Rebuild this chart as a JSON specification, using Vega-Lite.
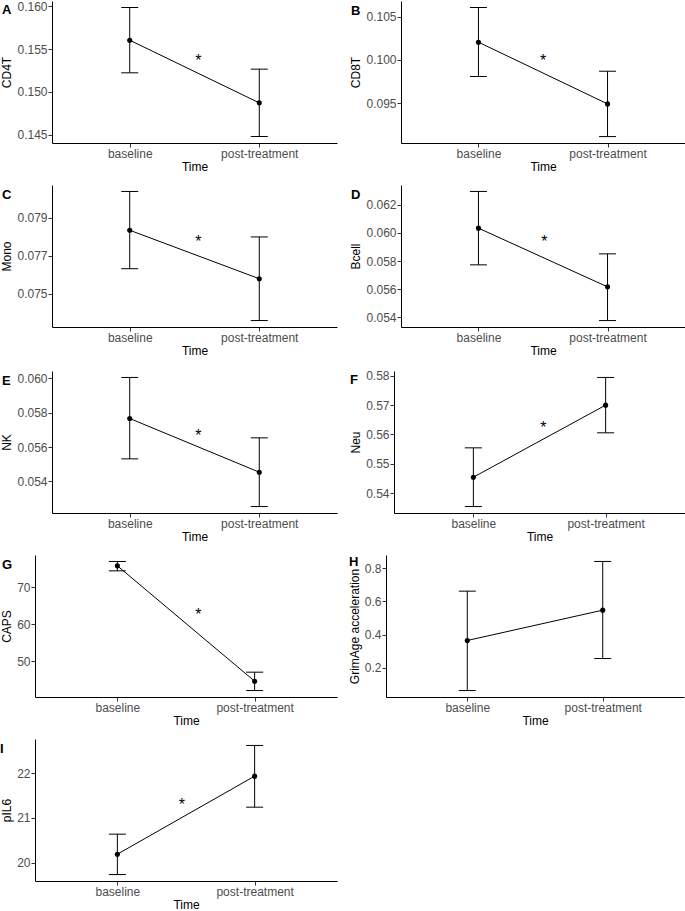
{
"$schema": "https://vega.github.io/schema/vega-lite/v6.json",
"padding": {"left": 0, "top": 0, "right": 0, "bottom": 0},
"datasets": {
"summary": [
{"panel": "CD4T", "time": "baseline", "t": 1, "mean": 0.15605, "lo": 0.15223, "hi": 0.15988},
{"panel": "CD4T", "time": "post-treatment", "t": 2, "mean": 0.14871, "lo": 0.14477, "hi": 0.15266},
{"panel": "CD8T", "time": "baseline", "t": 1, "mean": 0.10204, "lo": 0.09808, "hi": 0.10604},
{"panel": "CD8T", "time": "post-treatment", "t": 2, "mean": 0.09492, "lo": 0.09115, "hi": 0.09869},
{"panel": "Mono", "time": "baseline", "t": 1, "mean": 0.078333, "lo": 0.076316, "hi": 0.080368},
{"panel": "Mono", "time": "post-treatment", "t": 2, "mean": 0.075789, "lo": 0.073596, "hi": 0.077982},
{"panel": "Bcell", "time": "baseline", "t": 1, "mean": 0.060338, "lo": 0.057727, "hi": 0.06295},
{"panel": "Bcell", "time": "post-treatment", "t": 2, "mean": 0.05616, "lo": 0.053763, "hi": 0.05851},
{"panel": "NK", "time": "baseline", "t": 1, "mean": 0.057657, "lo": 0.055315, "hi": 0.060039},
{"panel": "NK", "time": "post-treatment", "t": 2, "mean": 0.05454, "lo": 0.052546, "hi": 0.056534},
{"panel": "Neu", "time": "baseline", "t": 1, "mean": 0.54545, "lo": 0.53545, "hi": 0.55545},
{"panel": "Neu", "time": "post-treatment", "t": 2, "mean": 0.57, "lo": 0.56057, "hi": 0.57943},
{"panel": "CAPS", "time": "baseline", "t": 1, "mean": 75.79, "lo": 74.43, "hi": 76.97},
{"panel": "CAPS", "time": "post-treatment", "t": 2, "mean": 44.57, "lo": 42.04, "hi": 47.01},
{"panel": "GrimAge acceleration", "time": "baseline", "t": 1, "mean": 0.3636, "lo": 0.0606, "hi": 0.6626},
{"panel": "GrimAge acceleration", "time": "post-treatment", "t": 2, "mean": 0.5475, "lo": 0.2545, "hi": 0.8424},
{"panel": "pIL6", "time": "baseline", "t": 1, "mean": 20.187, "lo": 19.73, "hi": 20.637},
{"panel": "pIL6", "time": "post-treatment", "t": 2, "mean": 21.94, "lo": 21.243, "hi": 22.629}
],
"stars": [
{"panel": "CD4T", "t": 1.53, "y": 0.15402},
{"panel": "CD8T", "t": 1.5, "y": 0.10027},
{"panel": "Mono", "t": 1.53, "y": 0.077895},
{"panel": "Bcell", "t": 1.51, "y": 0.059579},
{"panel": "NK", "t": 1.53, "y": 0.056825},
{"panel": "Neu", "t": 1.53, "y": 0.56318},
{"panel": "CAPS", "t": 1.59, "y": 63.21},
{"panel": "pIL6", "t": 1.47, "y": 21.363}
]
},
"spacing": 13,
"columns": 1,
"align": "none",
"concat": [
{"spacing": 12, "hconcat": [
{"width": 285, "height": 142, "title": {"text": "A", "dx": -50}, "data": {"name": "summary"}, "transform": [{"filter": "datum.panel === 'CD4T'"}],
 "encoding": {"x": {"field": "t", "type": "quantitative", "scale": {"domain": [0.4, 2.6], "nice": false, "zero": false}, "axis": {"values": [1, 2], "labelExpr": "datum.value === 1 ? 'baseline' : 'post-treatment'"}, "title": "Time"}},
 "layer": [
  {"mark": {"type": "rule", "color": "black", "strokeWidth": 1}, "encoding": {"y": {"field": "lo", "type": "quantitative", "scale": {"domain": [0.14401, 0.16064], "nice": false, "zero": false}, "axis": {"values": [0.145, 0.15, 0.155, 0.16], "format": ".3f"}, "title": "CD4T"}, "y2": {"field": "hi"}}},
  {"mark": {"type": "tick", "orient": "horizontal", "size": 17, "thickness": 1, "color": "black", "opacity": 1}, "encoding": {"y": {"field": "lo", "type": "quantitative", "axis": {"values": [0.145, 0.15, 0.155, 0.16], "format": ".3f"}, "title": "CD4T"}}},
  {"mark": {"type": "tick", "orient": "horizontal", "size": 17, "thickness": 1, "color": "black", "opacity": 1}, "encoding": {"y": {"field": "hi", "type": "quantitative", "axis": {"values": [0.145, 0.15, 0.155, 0.16], "format": ".3f"}, "title": "CD4T"}}},
  {"mark": {"type": "line", "color": "black", "strokeWidth": 1}, "encoding": {"y": {"field": "mean", "type": "quantitative", "axis": {"values": [0.145, 0.15, 0.155, 0.16], "format": ".3f"}, "title": "CD4T"}}},
  {"mark": {"type": "point", "filled": true, "color": "black", "size": 26, "opacity": 1}, "encoding": {"y": {"field": "mean", "type": "quantitative", "axis": {"values": [0.145, 0.15, 0.155, 0.16], "format": ".3f"}, "title": "CD4T"}}},
  {"data": {"name": "stars"}, "transform": [{"filter": "datum.panel === 'CD4T'"}], "mark": {"type": "text", "text": "*", "fontSize": 16, "dy": 3, "color": "black"}, "encoding": {"y": {"field": "y", "type": "quantitative", "axis": {"values": [0.145, 0.15, 0.155, 0.16], "format": ".3f"}, "title": "CD4T"}}}
 ]},
{"width": 284, "height": 142, "title": {"text": "B", "dx": -50}, "data": {"name": "summary"}, "transform": [{"filter": "datum.panel === 'CD8T'"}],
 "encoding": {"x": {"field": "t", "type": "quantitative", "scale": {"domain": [0.4, 2.6], "nice": false, "zero": false}, "axis": {"values": [1, 2], "labelExpr": "datum.value === 1 ? 'baseline' : 'post-treatment'"}, "title": "Time"}},
 "layer": [
  {"mark": {"type": "rule", "color": "black", "strokeWidth": 1}, "encoding": {"y": {"field": "lo", "type": "quantitative", "scale": {"domain": [0.09041, 0.10679], "nice": false, "zero": false}, "axis": {"values": [0.095, 0.1, 0.105], "format": ".3f"}, "title": "CD8T"}, "y2": {"field": "hi"}}},
  {"mark": {"type": "tick", "orient": "horizontal", "size": 17, "thickness": 1, "color": "black", "opacity": 1}, "encoding": {"y": {"field": "lo", "type": "quantitative", "axis": {"values": [0.095, 0.1, 0.105], "format": ".3f"}, "title": "CD8T"}}},
  {"mark": {"type": "tick", "orient": "horizontal", "size": 17, "thickness": 1, "color": "black", "opacity": 1}, "encoding": {"y": {"field": "hi", "type": "quantitative", "axis": {"values": [0.095, 0.1, 0.105], "format": ".3f"}, "title": "CD8T"}}},
  {"mark": {"type": "line", "color": "black", "strokeWidth": 1}, "encoding": {"y": {"field": "mean", "type": "quantitative", "axis": {"values": [0.095, 0.1, 0.105], "format": ".3f"}, "title": "CD8T"}}},
  {"mark": {"type": "point", "filled": true, "color": "black", "size": 26, "opacity": 1}, "encoding": {"y": {"field": "mean", "type": "quantitative", "axis": {"values": [0.095, 0.1, 0.105], "format": ".3f"}, "title": "CD8T"}}},
  {"data": {"name": "stars"}, "transform": [{"filter": "datum.panel === 'CD8T'"}], "mark": {"type": "text", "text": "*", "fontSize": 16, "dy": 3, "color": "black"}, "encoding": {"y": {"field": "y", "type": "quantitative", "axis": {"values": [0.095, 0.1, 0.105], "format": ".3f"}, "title": "CD8T"}}}
 ]}
]},
{"spacing": 12, "hconcat": [
{"width": 285, "height": 142, "title": {"text": "C", "dx": -50}, "data": {"name": "summary"}, "transform": [{"filter": "datum.panel === 'Mono'"}],
 "encoding": {"x": {"field": "t", "type": "quantitative", "scale": {"domain": [0.4, 2.6], "nice": false, "zero": false}, "axis": {"values": [1, 2], "labelExpr": "datum.value === 1 ? 'baseline' : 'post-treatment'"}, "title": "Time"}},
 "layer": [
  {"mark": {"type": "rule", "color": "black", "strokeWidth": 1}, "encoding": {"y": {"field": "lo", "type": "quantitative", "scale": {"domain": [0.073257, 0.080707], "nice": false, "zero": false}, "axis": {"values": [0.075, 0.077, 0.079], "format": ".3f"}, "title": "Mono"}, "y2": {"field": "hi"}}},
  {"mark": {"type": "tick", "orient": "horizontal", "size": 17, "thickness": 1, "color": "black", "opacity": 1}, "encoding": {"y": {"field": "lo", "type": "quantitative", "axis": {"values": [0.075, 0.077, 0.079], "format": ".3f"}, "title": "Mono"}}},
  {"mark": {"type": "tick", "orient": "horizontal", "size": 17, "thickness": 1, "color": "black", "opacity": 1}, "encoding": {"y": {"field": "hi", "type": "quantitative", "axis": {"values": [0.075, 0.077, 0.079], "format": ".3f"}, "title": "Mono"}}},
  {"mark": {"type": "line", "color": "black", "strokeWidth": 1}, "encoding": {"y": {"field": "mean", "type": "quantitative", "axis": {"values": [0.075, 0.077, 0.079], "format": ".3f"}, "title": "Mono"}}},
  {"mark": {"type": "point", "filled": true, "color": "black", "size": 26, "opacity": 1}, "encoding": {"y": {"field": "mean", "type": "quantitative", "axis": {"values": [0.075, 0.077, 0.079], "format": ".3f"}, "title": "Mono"}}},
  {"data": {"name": "stars"}, "transform": [{"filter": "datum.panel === 'Mono'"}], "mark": {"type": "text", "text": "*", "fontSize": 16, "dy": 3, "color": "black"}, "encoding": {"y": {"field": "y", "type": "quantitative", "axis": {"values": [0.075, 0.077, 0.079], "format": ".3f"}, "title": "Mono"}}}
 ]},
{"width": 284, "height": 142, "title": {"text": "D", "dx": -50}, "data": {"name": "summary"}, "transform": [{"filter": "datum.panel === 'Bcell'"}],
 "encoding": {"x": {"field": "t", "type": "quantitative", "scale": {"domain": [0.4, 2.6], "nice": false, "zero": false}, "axis": {"values": [1, 2], "labelExpr": "datum.value === 1 ? 'baseline' : 'post-treatment'"}, "title": "Time"}},
 "layer": [
  {"mark": {"type": "rule", "color": "black", "strokeWidth": 1}, "encoding": {"y": {"field": "lo", "type": "quantitative", "scale": {"domain": [0.053304, 0.063409], "nice": false, "zero": false}, "axis": {"values": [0.054, 0.056, 0.058, 0.06, 0.062], "format": ".3f"}, "title": "Bcell"}, "y2": {"field": "hi"}}},
  {"mark": {"type": "tick", "orient": "horizontal", "size": 17, "thickness": 1, "color": "black", "opacity": 1}, "encoding": {"y": {"field": "lo", "type": "quantitative", "axis": {"values": [0.054, 0.056, 0.058, 0.06, 0.062], "format": ".3f"}, "title": "Bcell"}}},
  {"mark": {"type": "tick", "orient": "horizontal", "size": 17, "thickness": 1, "color": "black", "opacity": 1}, "encoding": {"y": {"field": "hi", "type": "quantitative", "axis": {"values": [0.054, 0.056, 0.058, 0.06, 0.062], "format": ".3f"}, "title": "Bcell"}}},
  {"mark": {"type": "line", "color": "black", "strokeWidth": 1}, "encoding": {"y": {"field": "mean", "type": "quantitative", "axis": {"values": [0.054, 0.056, 0.058, 0.06, 0.062], "format": ".3f"}, "title": "Bcell"}}},
  {"mark": {"type": "point", "filled": true, "color": "black", "size": 26, "opacity": 1}, "encoding": {"y": {"field": "mean", "type": "quantitative", "axis": {"values": [0.054, 0.056, 0.058, 0.06, 0.062], "format": ".3f"}, "title": "Bcell"}}},
  {"data": {"name": "stars"}, "transform": [{"filter": "datum.panel === 'Bcell'"}], "mark": {"type": "text", "text": "*", "fontSize": 16, "dy": 3, "color": "black"}, "encoding": {"y": {"field": "y", "type": "quantitative", "axis": {"values": [0.054, 0.056, 0.058, 0.06, 0.062], "format": ".3f"}, "title": "Bcell"}}}
 ]}
]},
{"spacing": 12, "hconcat": [
{"width": 285, "height": 142, "title": {"text": "E", "dx": -50}, "data": {"name": "summary"}, "transform": [{"filter": "datum.panel === 'NK'"}],
 "encoding": {"x": {"field": "t", "type": "quantitative", "scale": {"domain": [0.4, 2.6], "nice": false, "zero": false}, "axis": {"values": [1, 2], "labelExpr": "datum.value === 1 ? 'baseline' : 'post-treatment'"}, "title": "Time"}},
 "layer": [
  {"mark": {"type": "rule", "color": "black", "strokeWidth": 1}, "encoding": {"y": {"field": "lo", "type": "quantitative", "scale": {"domain": [0.052171, 0.060414], "nice": false, "zero": false}, "axis": {"values": [0.054, 0.056, 0.058, 0.06], "format": ".3f"}, "title": "NK"}, "y2": {"field": "hi"}}},
  {"mark": {"type": "tick", "orient": "horizontal", "size": 17, "thickness": 1, "color": "black", "opacity": 1}, "encoding": {"y": {"field": "lo", "type": "quantitative", "axis": {"values": [0.054, 0.056, 0.058, 0.06], "format": ".3f"}, "title": "NK"}}},
  {"mark": {"type": "tick", "orient": "horizontal", "size": 17, "thickness": 1, "color": "black", "opacity": 1}, "encoding": {"y": {"field": "hi", "type": "quantitative", "axis": {"values": [0.054, 0.056, 0.058, 0.06], "format": ".3f"}, "title": "NK"}}},
  {"mark": {"type": "line", "color": "black", "strokeWidth": 1}, "encoding": {"y": {"field": "mean", "type": "quantitative", "axis": {"values": [0.054, 0.056, 0.058, 0.06], "format": ".3f"}, "title": "NK"}}},
  {"mark": {"type": "point", "filled": true, "color": "black", "size": 26, "opacity": 1}, "encoding": {"y": {"field": "mean", "type": "quantitative", "axis": {"values": [0.054, 0.056, 0.058, 0.06], "format": ".3f"}, "title": "NK"}}},
  {"data": {"name": "stars"}, "transform": [{"filter": "datum.panel === 'NK'"}], "mark": {"type": "text", "text": "*", "fontSize": 16, "dy": 3, "color": "black"}, "encoding": {"y": {"field": "y", "type": "quantitative", "axis": {"values": [0.054, 0.056, 0.058, 0.06], "format": ".3f"}, "title": "NK"}}}
 ]},
{"width": 291, "height": 142, "title": {"text": "F", "dx": -44}, "data": {"name": "summary"}, "transform": [{"filter": "datum.panel === 'Neu'"}],
 "encoding": {"x": {"field": "t", "type": "quantitative", "scale": {"domain": [0.4, 2.6], "nice": false, "zero": false}, "axis": {"values": [1, 2], "labelExpr": "datum.value === 1 ? 'baseline' : 'post-treatment'"}, "title": "Time"}},
 "layer": [
  {"mark": {"type": "rule", "color": "black", "strokeWidth": 1}, "encoding": {"y": {"field": "lo", "type": "quantitative", "scale": {"domain": [0.53325, 0.58163], "nice": false, "zero": false}, "axis": {"values": [0.54, 0.55, 0.56, 0.57, 0.58], "format": ".2f"}, "title": "Neu"}, "y2": {"field": "hi"}}},
  {"mark": {"type": "tick", "orient": "horizontal", "size": 17, "thickness": 1, "color": "black", "opacity": 1}, "encoding": {"y": {"field": "lo", "type": "quantitative", "axis": {"values": [0.54, 0.55, 0.56, 0.57, 0.58], "format": ".2f"}, "title": "Neu"}}},
  {"mark": {"type": "tick", "orient": "horizontal", "size": 17, "thickness": 1, "color": "black", "opacity": 1}, "encoding": {"y": {"field": "hi", "type": "quantitative", "axis": {"values": [0.54, 0.55, 0.56, 0.57, 0.58], "format": ".2f"}, "title": "Neu"}}},
  {"mark": {"type": "line", "color": "black", "strokeWidth": 1}, "encoding": {"y": {"field": "mean", "type": "quantitative", "axis": {"values": [0.54, 0.55, 0.56, 0.57, 0.58], "format": ".2f"}, "title": "Neu"}}},
  {"mark": {"type": "point", "filled": true, "color": "black", "size": 26, "opacity": 1}, "encoding": {"y": {"field": "mean", "type": "quantitative", "axis": {"values": [0.54, 0.55, 0.56, 0.57, 0.58], "format": ".2f"}, "title": "Neu"}}},
  {"data": {"name": "stars"}, "transform": [{"filter": "datum.panel === 'Neu'"}], "mark": {"type": "text", "text": "*", "fontSize": 16, "dy": 3, "color": "black"}, "encoding": {"y": {"field": "y", "type": "quantitative", "axis": {"values": [0.54, 0.55, 0.56, 0.57, 0.58], "format": ".2f"}, "title": "Neu"}}}
 ]}
]},
{"spacing": -6, "hconcat": [
{"width": 285, "height": 142, "title": {"text": "G", "dx": -50}, "data": {"name": "summary"}, "transform": [{"filter": "datum.panel === 'CAPS'"}],
 "encoding": {"x": {"field": "t", "type": "quantitative", "scale": {"domain": [0.4, 2.6], "range": [-17, 285], "nice": false, "zero": false}, "axis": {"values": [1, 2], "labelExpr": "datum.value === 1 ? 'baseline' : 'post-treatment'"}, "title": "Time"}},
 "layer": [
  {"mark": {"type": "rule", "color": "black", "strokeWidth": 1}, "encoding": {"y": {"field": "lo", "type": "quantitative", "scale": {"domain": [40.29, 78.72], "nice": false, "zero": false}, "axis": {"values": [50, 60, 70], "format": "d", "offset": 17}, "title": "CAPS"}, "y2": {"field": "hi"}}},
  {"mark": {"type": "tick", "orient": "horizontal", "size": 17, "thickness": 1, "color": "black", "opacity": 1}, "encoding": {"y": {"field": "lo", "type": "quantitative", "axis": {"values": [50, 60, 70], "format": "d", "offset": 17}, "title": "CAPS"}}},
  {"mark": {"type": "tick", "orient": "horizontal", "size": 17, "thickness": 1, "color": "black", "opacity": 1}, "encoding": {"y": {"field": "hi", "type": "quantitative", "axis": {"values": [50, 60, 70], "format": "d", "offset": 17}, "title": "CAPS"}}},
  {"mark": {"type": "line", "color": "black", "strokeWidth": 1}, "encoding": {"y": {"field": "mean", "type": "quantitative", "axis": {"values": [50, 60, 70], "format": "d", "offset": 17}, "title": "CAPS"}}},
  {"mark": {"type": "point", "filled": true, "color": "black", "size": 26, "opacity": 1}, "encoding": {"y": {"field": "mean", "type": "quantitative", "axis": {"values": [50, 60, 70], "format": "d", "offset": 17}, "title": "CAPS"}}},
  {"data": {"name": "stars"}, "transform": [{"filter": "datum.panel === 'CAPS'"}], "mark": {"type": "text", "text": "*", "fontSize": 16, "dy": 3, "color": "black"}, "encoding": {"y": {"field": "y", "type": "quantitative", "axis": {"values": [50, 60, 70], "format": "d", "offset": 17}, "title": "CAPS"}}}
 ]},
{"width": 298, "height": 142, "title": {"text": "H", "dx": -37, "offset": -14}, "data": {"name": "summary"}, "transform": [{"filter": "datum.panel === 'GrimAge acceleration'"}],
 "encoding": {"x": {"field": "t", "type": "quantitative", "scale": {"domain": [0.4, 2.6], "nice": false, "zero": false}, "axis": {"values": [1, 2], "labelExpr": "datum.value === 1 ? 'baseline' : 'post-treatment'"}, "title": "Time"}},
 "layer": [
  {"mark": {"type": "rule", "color": "black", "strokeWidth": 1}, "encoding": {"y": {"field": "lo", "type": "quantitative", "scale": {"domain": [0.0215, 0.8815], "nice": false, "zero": false}, "axis": {"values": [0.2, 0.4, 0.6, 0.8], "format": ".1f"}, "title": "GrimAge acceleration"}, "y2": {"field": "hi"}}},
  {"mark": {"type": "tick", "orient": "horizontal", "size": 17, "thickness": 1, "color": "black", "opacity": 1}, "encoding": {"y": {"field": "lo", "type": "quantitative", "axis": {"values": [0.2, 0.4, 0.6, 0.8], "format": ".1f"}, "title": "GrimAge acceleration"}}},
  {"mark": {"type": "tick", "orient": "horizontal", "size": 17, "thickness": 1, "color": "black", "opacity": 1}, "encoding": {"y": {"field": "hi", "type": "quantitative", "axis": {"values": [0.2, 0.4, 0.6, 0.8], "format": ".1f"}, "title": "GrimAge acceleration"}}},
  {"mark": {"type": "line", "color": "black", "strokeWidth": 1}, "encoding": {"y": {"field": "mean", "type": "quantitative", "axis": {"values": [0.2, 0.4, 0.6, 0.8], "format": ".1f"}, "title": "GrimAge acceleration"}}},
  {"mark": {"type": "point", "filled": true, "color": "black", "size": 26, "opacity": 1}, "encoding": {"y": {"field": "mean", "type": "quantitative", "axis": {"values": [0.2, 0.4, 0.6, 0.8], "format": ".1f"}, "title": "GrimAge acceleration"}}}
 ]}
]},
{"width": 285, "height": 142, "title": {"text": "I", "dx": -52}, "data": {"name": "summary"}, "transform": [{"filter": "datum.panel === 'pIL6'"}],
 "encoding": {"x": {"field": "t", "type": "quantitative", "scale": {"domain": [0.4, 2.6], "range": [-17, 285], "nice": false, "zero": false}, "axis": {"values": [1, 2], "labelExpr": "datum.value === 1 ? 'baseline' : 'post-treatment'"}, "title": "Time"}},
 "layer": [
  {"mark": {"type": "rule", "color": "black", "strokeWidth": 1}, "encoding": {"y": {"field": "lo", "type": "quantitative", "scale": {"domain": [19.585, 22.774], "nice": false, "zero": false}, "axis": {"values": [20, 21, 22], "format": "d", "offset": 17}, "title": "pIL6"}, "y2": {"field": "hi"}}},
  {"mark": {"type": "tick", "orient": "horizontal", "size": 17, "thickness": 1, "color": "black", "opacity": 1}, "encoding": {"y": {"field": "lo", "type": "quantitative", "axis": {"values": [20, 21, 22], "format": "d", "offset": 17}, "title": "pIL6"}}},
  {"mark": {"type": "tick", "orient": "horizontal", "size": 17, "thickness": 1, "color": "black", "opacity": 1}, "encoding": {"y": {"field": "hi", "type": "quantitative", "axis": {"values": [20, 21, 22], "format": "d", "offset": 17}, "title": "pIL6"}}},
  {"mark": {"type": "line", "color": "black", "strokeWidth": 1}, "encoding": {"y": {"field": "mean", "type": "quantitative", "axis": {"values": [20, 21, 22], "format": "d", "offset": 17}, "title": "pIL6"}}},
  {"mark": {"type": "point", "filled": true, "color": "black", "size": 26, "opacity": 1}, "encoding": {"y": {"field": "mean", "type": "quantitative", "axis": {"values": [20, 21, 22], "format": "d", "offset": 17}, "title": "pIL6"}}},
  {"data": {"name": "stars"}, "transform": [{"filter": "datum.panel === 'pIL6'"}], "mark": {"type": "text", "text": "*", "fontSize": 16, "dy": 3, "color": "black"}, "encoding": {"y": {"field": "y", "type": "quantitative", "axis": {"values": [20, 21, 22], "format": "d", "offset": 17}, "title": "pIL6"}}}
 ]}
],
"config": {
 "font": "Liberation Sans",
 "background": "white",
 "view": {"stroke": null},
 "axis": {"grid": false, "domainColor": "#000000", "domainWidth": 1, "tickColor": "#333333", "tickSize": 4, "tickWidth": 1, "labelColor": "#4D4D4D", "labelFontSize": 12, "labelPadding": 1, "titleFontSize": 12, "titleFontWeight": "normal", "titleColor": "#000000", "labelFont": "Liberation Sans", "titleFont": "Liberation Sans", "labelOverlap": false},
 "axisX": {"titlePadding": 2, "labelFlush": false},
 "axisY": {"titlePadding": 3},
 "title": {"anchor": "start", "frame": "group", "fontSize": 13, "fontWeight": "bold", "baseline": "top", "offset": -17, "font": "Liberation Sans", "color": "#000000"}
}
}
